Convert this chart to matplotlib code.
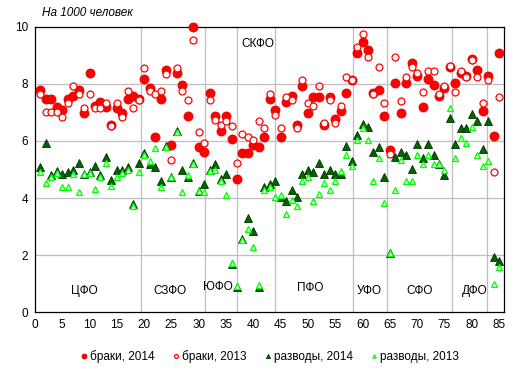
import numpy as np
import matplotlib
matplotlib.use("Agg")
import matplotlib.pyplot as plt

plt.rcParams['font.family'] = ['Liberation Sans', 'DejaVu Sans']

# номера регионов 1..85
regions = np.arange(1, 86)

# браки на 1000 человек
marr_2014 = [7.78, 7.47, 7.47, 7.2, 7.08, 7.47, 7.57, 7.78, 6.99, 8.37,
             7.22, 7.35, 7.2, 6.56, 7.17, 6.97, 7.47, 7.57, 7.47, 8.17,
             7.87, 6.15, 7.47, 8.48, 5.86, 8.37, 7.96, 6.88, 10.0, 5.78,
             5.6, 7.67, 6.88, 6.36, 6.88, 6.06, 4.66, 5.59, 5.59, 5.86,
             5.78, 6.15, 7.46, 7.08, 6.15, 7.35, 7.57, 6.56, 7.93, 6.97,
             7.55, 7.55, 6.56, 7.55, 6.76, 7.05, 7.67, 8.12, 9.07, 9.47,
             9.18, 7.67, 7.78, 6.88, 5.68, 8.04, 6.97, 8.04, 8.74, 8.27,
             7.18, 8.16, 7.96, 7.57, 7.87, 8.58, 8.04, 8.37, 8.27, 8.87,
             8.48, 7.05, 8.27, 6.17, 9.07]
marr_2013 = [7.63, 7.02, 7.02, 7.02, 6.85, 7.32, 7.92, 7.63, 7.15, 7.63,
             7.15, 7.15, 7.32, 6.52, 7.32, 6.85, 7.75, 7.15, 7.43, 8.54,
             7.75, 7.63, 7.75, 8.33, 5.33, 8.54, 7.75, 7.43, 9.53, 6.33,
             5.92, 7.43, 6.73, 6.55, 6.71, 6.52, 5.22, 6.24, 6.15, 6.03,
             6.71, 6.44, 7.63, 6.92, 6.44, 7.55, 7.43, 6.44, 8.13, 7.32,
             7.22, 7.92, 6.62, 7.43, 6.62, 7.22, 8.23, 8.13, 9.3, 9.74,
             8.93, 7.63, 8.6, 7.32, 5.53, 8.93, 7.41, 8.23, 8.6, 8.37,
             7.73, 8.45, 8.45, 7.64, 7.92, 8.63, 7.73, 8.45, 8.23, 8.84,
             8.23, 7.32, 8.13, 4.92, 7.53]

# разводы на 1000 человек
div_2014 = [5.1, 5.92, 4.81, 4.96, 4.84, 4.92, 5.0, 5.22, 4.84, 4.92,
            5.12, 4.8, 5.43, 4.63, 5.0, 5.0, 5.1, 3.79, 5.22, 5.59,
            5.2, 5.1, 4.6, 5.82, 4.75, 6.36, 4.98, 4.73, 5.22, 4.25,
            4.5, 4.98, 5.2, 4.65, 4.84, 1.7, 0.88, 2.58, 3.31, 2.84,
            0.87, 4.38, 4.5, 4.6, 4.03, 3.89, 4.29, 4.02, 4.83, 4.98,
            4.92, 5.22, 4.83, 4.98, 4.84, 4.85, 5.81, 5.31, 6.22, 6.58,
            6.5, 5.62, 5.8, 4.72, 2.09, 5.45, 5.62, 5.52, 5.01, 5.9,
            5.4, 5.9, 5.51, 5.2, 4.81, 6.81, 5.88, 6.44, 6.44, 6.93,
            6.7, 5.72, 6.7, 1.93, 1.81]
div_2013 = [4.92, 4.52, 4.73, 4.87, 4.4, 4.4, 4.83, 4.22, 4.83, 4.87,
            4.3, 4.75, 5.24, 4.42, 4.75, 4.87, 5.0, 3.72, 4.92, 5.51,
            5.3, 5.76, 4.4, 5.78, 4.72, 6.3, 4.22, 4.8, 5.2, 4.25,
            4.21, 4.95, 4.99, 4.61, 4.12, 1.72, 0.93, 2.52, 2.9, 2.3,
            0.95, 4.29, 4.4, 4.02, 4.11, 3.45, 3.93, 3.72, 4.6, 4.72,
            3.9, 4.13, 4.52, 4.29, 4.6, 4.95, 5.52, 5.11, 6.03, 6.46,
            6.02, 4.6, 5.41, 3.83, 2.06, 4.29, 5.32, 4.61, 4.61, 5.51,
            5.21, 5.51, 5.2, 5.2, 5.0, 7.14, 5.42, 6.12, 5.92, 6.5,
            5.51, 5.11, 5.3, 0.99, 1.6]

# границы округов и подписи
borders = [19.5, 31.2, 37.0, 44.0, 58.2, 64.4, 76.4, 82.8]
district_names = ['ЦФО', 'СЗФО', 'ЮФО', 'ПФО', 'УФО', 'СФО', 'ДФО', 'СКФО']
district_x = [9.0, 24.7, 33.5, 50.4, 61.2, 70.5, 80.5, 40.8]
district_y = [0.76, 0.76, 0.9, 0.84, 0.76, 0.76, 0.76, 9.39]

fig = plt.figure(figsize=(5.19, 3.75), dpi=100)
ax = fig.add_axes([0.0674, 0.1672, 0.9036, 0.7616])

for b in borders:
    ax.axvline(b, color='#bfbfbf', lw=0.9, zorder=1)
for yy in [2, 4, 6, 8]:
    ax.axhline(yy, color='#bfbfbf', lw=0.9, zorder=1)

ax.plot(regions, marr_2014, 'o', ms=6.5, mfc='#ff0000', mec='#e00000', mew=0.6,
        label='браки, 2014', zorder=3, clip_on=False)
ax.plot(regions, marr_2013, 'o', ms=5.0, mfc='white', mec='#ff0000', mew=0.9,
        label='браки, 2013', zorder=4)
ax.plot(regions, div_2014, '^', ms=5.5, mfc='#006400', mec='#003300', mew=0.6,
        label='разводы, 2014', zorder=5)
ax.plot(regions, div_2013, '^', ms=4.3, mfc='#d8ffd8', mec='#00ff00', mew=0.9,
        label='разводы, 2013', zorder=6)

for name, x, y in zip(district_names, district_x, district_y):
    ax.text(x, y, name, fontsize=8.5, ha='center', va='center', zorder=7)

ax.set_xlim(0, 85.9)
ax.set_ylim(0, 10)
ax.set_xticks(range(0, 86, 5))
ax.set_yticks(range(0, 11, 2))
ax.tick_params(length=0, labelsize=8.5, pad=5)
for s in ax.spines.values():
    s.set_color('black')
    s.set_linewidth(0.9)

fig.text(0.081, 0.965, 'На 1000 человек', fontsize=8.5, style='italic',
         ha='left', va='center')

fig.legend(loc='center', bbox_to_anchor=(0.52, 0.048), ncol=4, frameon=False,
           fontsize=8.5, markerscale=0.55, handlelength=0.6, handletextpad=0.2,
           columnspacing=1.5)

fig.savefig('out.png', dpi=100)
